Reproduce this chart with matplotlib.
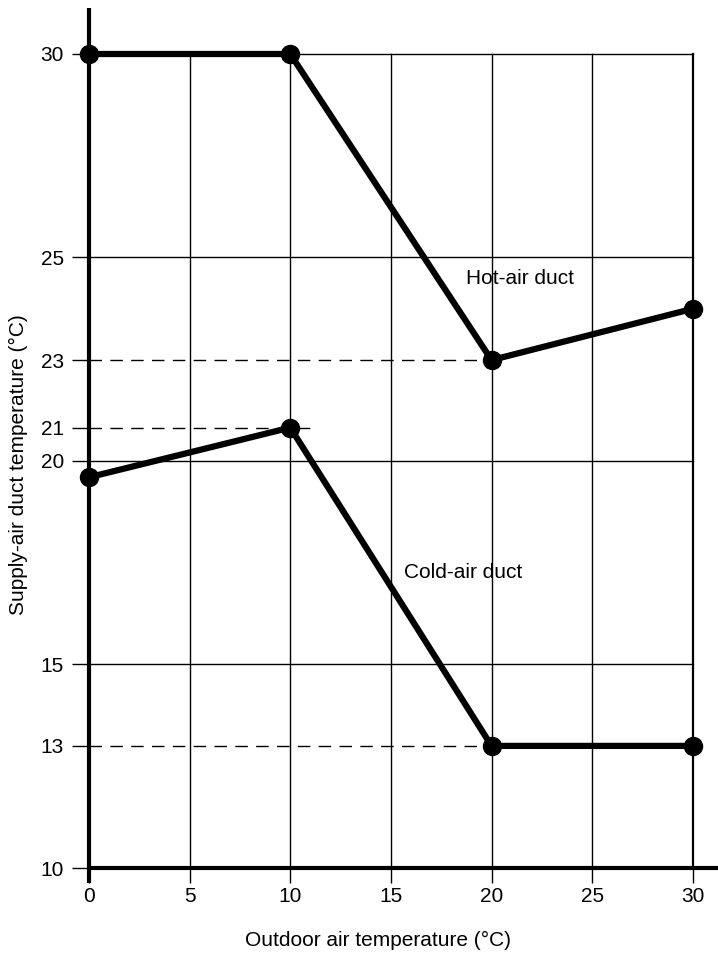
import matplotlib
matplotlib.use("Agg")
import matplotlib.pyplot as plt
import numpy as np

outdoor = [0, 10, 20, 30]
hot_duct = [30, 30, 23, 24]
cold_duct = [19.6, 21, 13, 13]
xticks = [0, 5, 10, 15, 20, 25, 30]
yticks = [10, 13, 15, 20, 21, 23, 25, 30]
grid_y = [15, 20, 25, 30]
grid_x = [5, 10, 15, 20, 25, 30]
dashed_levels = [23, 21, 13]
dashed_ends = [20, 11, 20]

# the printed y axis is not evenly spaced near 21 and 23: piecewise scale
scale_vals = [0, 10, 13, 15, 20, 21, 23, 25, 30, 40]
scale_disp = [0, 10, 13, 15, 20, 20.82, 22.48, 25, 30, 40]

def fwd(v):
    return np.interp(v, scale_vals, scale_disp)

def inv(v):
    return np.interp(v, scale_disp, scale_vals)

plt.rcParams['font.family'] = ['Liberation Sans', 'DejaVu Sans']
FS = 15

fig = plt.figure(figsize=(7.18, 9.55), dpi=100)
ax = fig.add_axes([89/718, 87/955, 1 - 89/718, (955 - 8 - 87)/955])
ax.set_yscale('function', functions=(fwd, inv))
xmax = 31.25
ymax = 31.13
ax.set_xlim(0, xmax)
ax.set_ylim(10, ymax)
for s in ax.spines.values():
    s.set_visible(False)

# grid
for gx in grid_x:
    ax.plot([gx, gx], [10, 30], color='black', lw=1.6 if gx == 30 else 1.0, zorder=1)
for gy in grid_y:
    ax.plot([0, 30], [gy, gy], color='black', lw=1.0, zorder=1)
for lvl, end in zip(dashed_levels, dashed_ends):
    ax.plot([0, end], [lvl, lvl], color='black', lw=1.0, dashes=(9, 6), zorder=1)

# axes lines
ax.plot([0, xmax], [10, 10], color='black', lw=3.0, clip_on=False, zorder=3, solid_capstyle='butt')
ax.plot([0, 0], [9.63, ymax], color='black', lw=3.0, clip_on=False, zorder=3, solid_capstyle='butt')

ax.set_xticks(xticks)
ax.set_yticks(yticks)
ax.set_xticklabels([str(v) for v in xticks])
ax.set_yticklabels([str(v) for v in yticks])
ax.yaxis.set_minor_locator(matplotlib.ticker.NullLocator())
ax.tick_params(axis='x', length=11, width=1.0, pad=3, labelsize=FS, direction='out')
ax.tick_params(axis='y', length=12, width=1.0, pad=6, labelsize=FS, direction='out')

ax.plot(outdoor, hot_duct, color='black', lw=4.5, marker='o', markersize=13, zorder=4, clip_on=False)
ax.plot(outdoor, cold_duct, color='black', lw=4.5, marker='o', markersize=13, zorder=4, clip_on=False)

ax.text(21.4, 24.6, 'Hot-air duct', ha='center', va='center', fontsize=FS)
ax.text(18.6, 17.25, 'Cold-air duct', ha='center', va='center', fontsize=FS)

ax.set_xlabel('Outdoor air temperature (°C)', fontsize=FS)
ax.set_ylabel('Supply-air duct temperature (°C)', fontsize=FS)
ax.xaxis.label.set_va('center')
ax.xaxis.set_label_coords((378 - 89) / (718 - 89), -(940 - 868) / 860)
ax.yaxis.label.set_va('center')
ax.yaxis.set_label_coords(-(89 - 18) / 629, (868 - 465) / 860)

fig.savefig('out.png', dpi=100)
